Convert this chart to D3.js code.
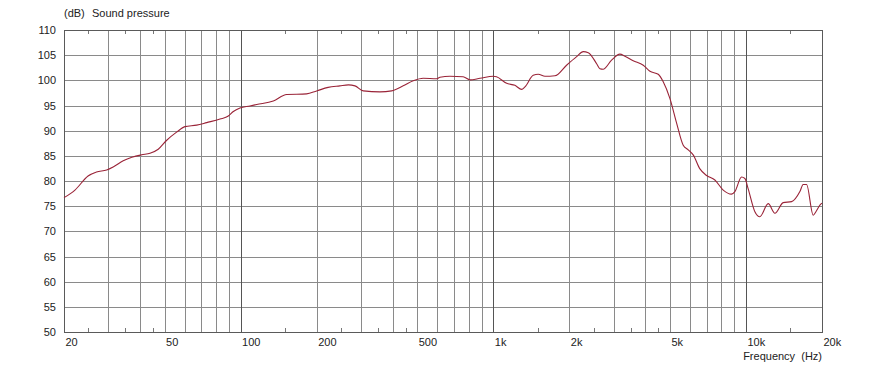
<!DOCTYPE html>
<html>
<head>
<meta charset="utf-8">
<script src="https://cdn.jsdelivr.net/npm/d3@7"></script>
<style>
  body { margin: 0; background: #fff; }
  svg { display: block; font-family: Arial, "Liberation Sans", sans-serif; }
  text { fill: #222; font-size: 11px; }
</style>
</head>
<body>
<svg id="chart"></svg>
<script>
// Frequency response data (Hz, dB)
const freqs = [20, 22.1, 24.9, 26.9, 29.5, 31.3, 34.3, 37.1, 40.6, 43.8, 47.2, 51, 55.8, 60.2, 67, 73.4, 82.9, 89.4, 93.6, 99.4,
  108.9, 115.8, 134.7, 152.2, 182.5, 200, 222, 247, 267, 283.6, 306, 356, 396, 440, 482, 528, 597,
  615, 674, 760, 809, 886, 1000, 1030, 1130, 1218, 1295, 1335, 1439, 1507, 1602, 1754, 1950, 2138, 2270, 2377, 2565, 2643, 2720,
  2939, 3170, 3320, 3580, 3924, 4170, 4497, 4706, 5000, 5316, 5646, 5910, 6183, 6575, 6985, 7535, 8130, 8770, 9040, 9610, 9905,
  10200, 10850, 11350, 12250, 13020, 14040, 15160, 16350, 16850, 17380, 18460, 18920, 19620, 20000];
const spl = [76.7, 78.2, 81.0, 81.8, 82.2, 82.8, 84.0, 84.7, 85.2, 85.5, 86.3, 88.1, 89.7, 90.8, 91.1, 91.6, 92.3, 92.9, 93.8, 94.5,
  94.9, 95.2, 95.9, 97.2, 97.3, 97.9, 98.6, 98.9, 99.1, 98.9, 97.9, 97.7, 97.9, 98.9, 99.9, 100.4, 100.3,
  100.6, 100.8, 100.7, 100.1, 100.4, 100.8, 100.7, 99.4, 99.0, 98.2, 98.7, 101.0, 101.2, 100.8, 100.9, 103.0, 104.7, 105.7, 105.5, 103.3, 102.3, 102.2,
  104.0, 105.2, 104.8, 103.9, 103.0, 101.8, 101.2, 99.7, 96.4, 91.5, 87.1, 86.2, 85.2, 82.4, 81.1, 80.2, 78.2, 77.4, 77.9, 80.8, 80.5,
  78.5, 73.9, 72.9, 75.5, 73.6, 75.7, 75.9, 77.9, 79.3, 79.3, 73.2, 73.9, 75.2, 75.6];

const xLabels = [20, 50, 100, 200, 500, 1000, 2000, 5000, 10000, 20000];
const xGrid = [30, 40, 50, 60, 70, 80, 90, 200, 300, 400, 500, 600, 700, 800, 900,
  2000, 3000, 4000, 5000, 6000, 7000, 8000, 9000];
const xMajor = [100, 1000, 10000];
const xMinor = [25, 35, 45, 150, 250, 350, 450, 1500, 2500, 3500, 4500, 15000];
const yTicks = d3.range(50, 111, 5);

const W = 886, H = 367;
const margin = { top: 30, right: 64, bottom: 35, left: 64 };
const width = W - margin.left - margin.right;
const height = H - margin.top - margin.bottom;

const root = d3.select("#chart").attr("width", W).attr("height", H);
const svg = root.append("g")
  .attr("transform", "translate(" + margin.left + "," + margin.top + ")");

const x = d3.scaleLog().domain([20, 20000]).range([0, width]);
const y = d3.scaleLinear().domain([50, 110]).range([height, 0]);

// horizontal grid
svg.append("g")
  .selectAll("line").data(yTicks).enter().append("line")
  .attr("x1", 0).attr("x2", width)
  .attr("y1", d => Math.round(y(d)) + 0.5).attr("y2", d => Math.round(y(d)) + 0.5)
  .attr("stroke", "#8a8a8a");

// vertical grid
svg.append("g")
  .selectAll("line").data(xGrid).enter().append("line")
  .attr("x1", d => Math.round(x(d)) + 0.5).attr("x2", d => Math.round(x(d)) + 0.5)
  .attr("y1", 0).attr("y2", height)
  .attr("stroke", "#8a8a8a");

svg.append("g")
  .selectAll("line").data(xMajor).enter().append("line")
  .attr("x1", d => Math.round(x(d)) + 0.5).attr("x2", d => Math.round(x(d)) + 0.5)
  .attr("y1", 0).attr("y2", height)
  .attr("stroke", "#555");

// minor ticks, top and bottom, pointing inward
const minor = svg.append("g").selectAll("g").data(xMinor).enter().append("g");
minor.append("line")
  .attr("x1", d => Math.round(x(d)) + 0.5).attr("x2", d => Math.round(x(d)) + 0.5)
  .attr("y1", 0).attr("y2", 4).attr("stroke", "#777");
minor.append("line")
  .attr("x1", d => Math.round(x(d)) + 0.5).attr("x2", d => Math.round(x(d)) + 0.5)
  .attr("y1", height - 4).attr("y2", height).attr("stroke", "#777");

// frame
svg.append("rect")
  .attr("x", 0.5).attr("y", 0.5)
  .attr("width", width).attr("height", height)
  .attr("fill", "none").attr("stroke", "#5a5a5a");

// axes labels via d3 axes
const fmt = d => d >= 1000 ? (d / 1000) + "k" : String(d);
const xAxis = svg.append("g")
  .attr("transform", "translate(0," + height + ")")
  .call(d3.axisBottom(x).tickValues(xLabels).tickFormat(fmt).tickSize(0).tickPadding(0));
xAxis.select(".domain").remove();
xAxis.selectAll("text")
  .attr("text-anchor", "start").attr("dx", 1).attr("y", 14).attr("dy", 0)
  .style("font-family", "Arial, 'Liberation Sans', sans-serif").style("font-size", "11px").attr("fill", "#222");

const yAxis = svg.append("g")
  .call(d3.axisLeft(y).tickValues(yTicks).tickSize(0).tickPadding(8));
yAxis.select(".domain").remove();
yAxis.selectAll("text")
  .style("font-family", "Arial, 'Liberation Sans', sans-serif").style("font-size", "11px").attr("fill", "#222");

// titles
root.append("text").attr("x", 64).attr("y", 17).text("(dB)");
root.append("text").attr("x", 92).attr("y", 17).text("Sound pressure");
root.append("text").attr("x", 822).attr("y", 360).attr("text-anchor", "end")
  .attr("xml:space", "preserve").text("Frequency  (Hz)");

// response curve
const points = freqs.map((f, i) => [f, spl[i]]);
svg.append("path")
  .datum(points)
  .attr("fill", "none")
  .attr("stroke", "#9a2438")
  .attr("stroke-width", 1.1)
  .attr("d", d3.line().x(d => x(d[0])).y(d => y(d[1])).curve(d3.curveMonotoneX));
</script>
</body>
</html>
